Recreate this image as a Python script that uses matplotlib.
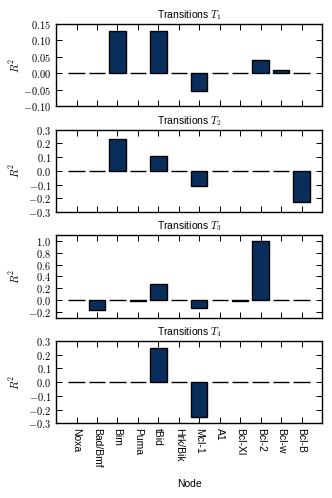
import matplotlib
matplotlib.use("Agg")
import matplotlib.pyplot as plt
from matplotlib.ticker import MultipleLocator, FormatStrFormatter

# Datos
nodes = ["Noxa", "Bad/Bmf", "Bim", "Puma", "tBid", "Hrk/Bik", "Mcl-1",
         "A1", "Bcl-Xl", "Bcl-2", "Bcl-w", "Bcl-B"]
r2_t1 = [0, 0, 0.13, 0, 0.13, 0, -0.053, 0, 0, 0.04, 0.01, 0]
r2_t2 = [0, 0, 0.23, 0, 0.11, 0, -0.11, 0, 0, 0, 0, -0.23]
r2_t3 = [0, -0.17, 0, -0.01, 0.27, 0, -0.14, 0, -0.01, 1.0, 0.005, 0]
r2_t4 = [0, 0, 0, 0, 0.25, 0, -0.255, 0, 0, 0, 0, 0]

titles = ["Transitions $T_1$", "Transitions $T_2$", "Transitions $T_3$", "Transitions $T_4$"]
series = [r2_t1, r2_t2, r2_t3, r2_t4]
ylims = [(-0.1, 0.15), (-0.3, 0.3), (-0.3, 1.1), (-0.3, 0.3)]
ysteps = [0.05, 0.1, 0.2, 0.1]
yfmts = ["$%.2f$", "$%.1f$", "$%.1f$", "$%.1f$"]

plt.rcParams["font.family"] = ["Liberation Sans", "DejaVu Sans"]
plt.rcParams["mathtext.fontset"] = "cm"
plt.rcParams["font.size"] = 7.5
plt.rcParams["xtick.direction"] = "in"
plt.rcParams["ytick.direction"] = "in"
plt.rcParams["xtick.top"] = True
plt.rcParams["ytick.right"] = True
plt.rcParams["xtick.major.size"] = 4
plt.rcParams["ytick.major.size"] = 4
plt.rcParams["xtick.major.width"] = 0.7
plt.rcParams["ytick.major.width"] = 0.7
plt.rcParams["axes.linewidth"] = 1.0

fig, axes = plt.subplots(4, 1, figsize=(3.32, 4.98), dpi=100, sharex=True)
fig.subplots_adjust(left=0.169, right=0.970, bottom=0.150, top=0.952, hspace=0.28)

x = list(range(len(nodes)))
for ax, vals, title, ylim, step, fmt in zip(axes, series, titles, ylims, ysteps, yfmts):
    ax.bar(x, vals, width=0.8, color="#0a2e5c", edgecolor="black", linewidth=1.0)
    ax.set_title(title, fontsize=7.5, pad=4)
    ax.set_ylim(*ylim)
    ax.set_xlim(-1, len(nodes))
    ax.yaxis.set_major_locator(MultipleLocator(step))
    ax.yaxis.set_major_formatter(FormatStrFormatter(fmt))
    ax.set_ylabel("$R^2$", fontsize=8, labelpad=1)
    ax.tick_params(labelsize=7.5)

axes[-1].set_xticks(x)
axes[-1].set_xticklabels(nodes, rotation=270, fontsize=7.5)
axes[-1].set_xlabel("Node", fontsize=7.5, labelpad=8)
fig.align_ylabels(axes)

plt.savefig("out.png", dpi=100)
